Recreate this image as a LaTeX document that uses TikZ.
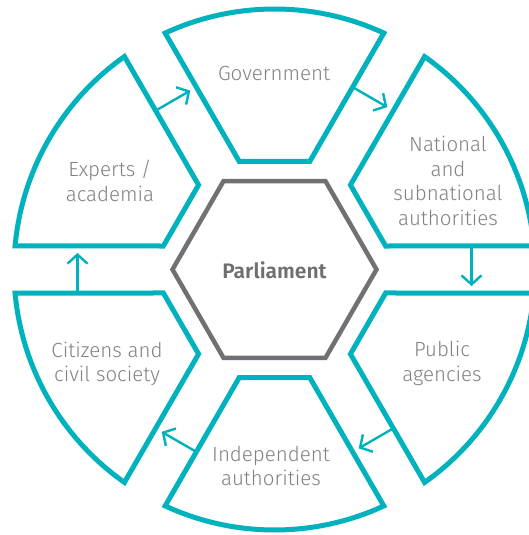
\documentclass[tikz,border=0pt]{standalone}
\usepackage{fontspec}
\setmainfont{Fira Sans}[UprightFont={* Light},BoldFont={* SemiBold}]
\usetikzlibrary{arrows.meta}
\definecolor{segteal}{RGB}{0,178,189}
\definecolor{hexgray}{RGB}{112,113,117}
\definecolor{txtgray}{RGB}{128,130,134}
\definecolor{boldgray}{RGB}{110,111,115}
\begin{document}
\begin{tikzpicture}[x=1pt,y=1pt,
  seg/.style={draw=segteal,line width=5pt,line join=miter,fill=white},
  cyclearrow/.style={draw=segteal,line width=2.4pt,-{Straight Barb[length=9pt,width=20pt]}},
  lbl/.style={text=txtgray,align=center,font=\fontsize{20.5}{24.5}\selectfont},
]
\useasboundingbox (-274.5,-265.5) rectangle (254.5,269.5);
\fill[white] (-274.5,-265.5) rectangle (254.5,269.5);
\clip (-274.5,-265.5) rectangle (254.5,269.5);
% outer segments
\foreach \r in {0,60,...,300} {
  \draw[seg,rotate=\r] (-35.22,108) -- (114.82:260.5)
     arc[start angle=114.82,end angle=65.18,radius=260.5] -- (35.22,108) -- cycle;
}
% central hexagon
\draw[hexgray,line width=4.5pt,line join=miter] (0:102) -- (60:102) -- (120:102) -- (180:102) -- (240:102) -- (300:102) -- cycle;
\node[text=boldgray,font=\fontsize{21}{24}\selectfont\bfseries] (parl) at (0,-0.5) {Parliament};
% labels
\node[lbl] (gov) at (-0.5,196.5) {Government};
\node[lbl] (nat) at (173.5,88.5) {National\\and\\subnational\\authorities};
\node[lbl] (exp) at (-164.5,88.5) {Experts /\\academia};
\node[lbl] (cit) at (-167.5,-94.5) {Citizens and\\civil society};
\node[lbl] (pub) at (167.5,-94) {Public\\agencies};
\node[lbl] (ind) at (-3.5,-196.5) {Independent\\authorities};
% arrow end points
\foreach \r/\n in {180/a,120/b,60/c,0/d,-60/e,-120/f} {
  \begin{scope}[rotate=\r]
    \coordinate (\n s) at (197,23.5);
    \coordinate (\n e) at (197,-16.5);
  \end{scope}
}
\draw[cyclearrow] (as) -- (ae);
\draw[cyclearrow] (bs) -- (be);
\draw[cyclearrow] (cs) -- (ce);
\draw[cyclearrow] (ds) -- (de);
\draw[cyclearrow] (es) -- (ee);
\draw[cyclearrow] (fs) -- (fe);
\end{tikzpicture}
\end{document}
